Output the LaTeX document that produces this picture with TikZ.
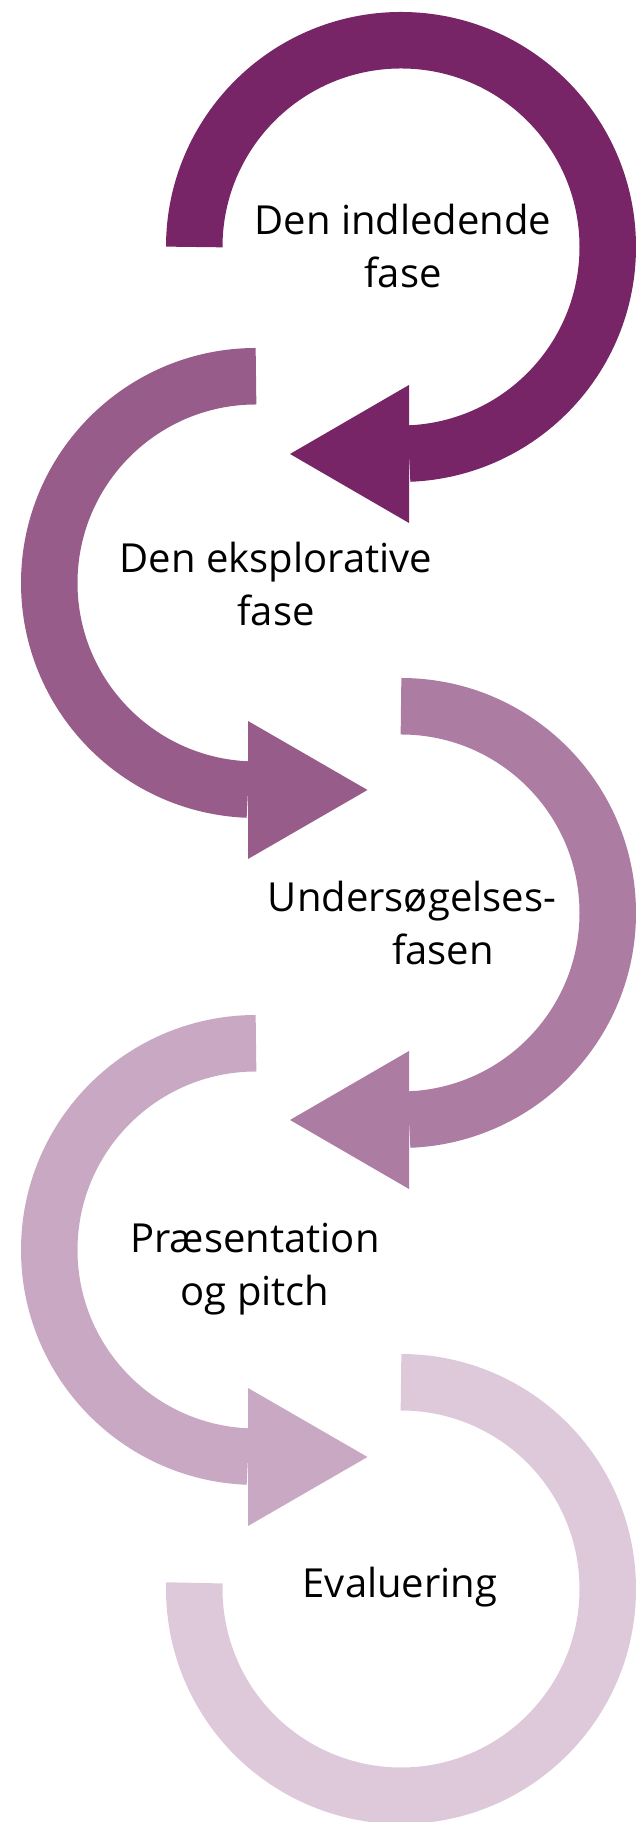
\documentclass[tikz,border=0pt]{standalone}
\usepackage{fontspec}
\setmainfont{Open Sans}
\definecolor{cA}{RGB}{119,37,102}
\definecolor{cB}{RGB}{152,92,138}
\definecolor{cC}{RGB}{173,124,163}
\definecolor{cD}{RGB}{201,168,196}
\definecolor{cE}{RGB}{222,201,219}
\begin{document}
\begin{tikzpicture}[x=1pt,y=1pt,
  band/.style={line width=56.5pt},
  lbl/.style={font=\fontsize{40}{53}\selectfont, align=center, inner sep=0pt, anchor=base}]
\useasboundingbox (0,0) rectangle (636,1822);
\coordinate (A) at (401,1575);
\coordinate (B) at (256,1239);
\coordinate (C) at (401,909);
\coordinate (D) at (256,572);
\coordinate (E) at (401,233);
% arc 1
\draw[band, cA] ([shift={(180:206.75)}]A) arc[start angle=180, end angle=-87.8, radius=206.75];
\fill[cA] ([shift={(8,-138)}]A) -- ([shift={(8,-276)}]A) -- ([shift={(-111,-207)}]A) -- cycle;
% arc 2
\draw[band, cB] ([shift={(90:206.75)}]B) arc[start angle=90, end angle=267.8, radius=206.75];
\fill[cB] ([shift={(-8,-138)}]B) -- ([shift={(-8,-276)}]B) -- ([shift={(111.5,-207)}]B) -- cycle;
% arc 3
\draw[band, cC] ([shift={(90:206.75)}]C) arc[start angle=90, end angle=-87.8, radius=206.75];
\fill[cC] ([shift={(8,-138)}]C) -- ([shift={(8,-276)}]C) -- ([shift={(-111,-207)}]C) -- cycle;
% arc 4
\draw[band, cD] ([shift={(90:206.75)}]D) arc[start angle=90, end angle=267.8, radius=206.75];
\fill[cD] ([shift={(-8,-138)}]D) -- ([shift={(-8,-276)}]D) -- ([shift={(111.5,-207)}]D) -- cycle;
% arc 5
\draw[band, cE] ([shift={(90:206.75)}]E) arc[start angle=90, end angle=-181.7, radius=206.75];
% labels (base anchor = baseline of the last line)
\node[lbl] (l1) at (403,1534) {Den indledende\\fase};
\node[lbl] (l2) at (276,1196) {Den eksplorative\\fase};
\node[lbl] (l3) at (412,857) {Unders\o gelses-\\\hspace*{62pt}fasen};
\node[lbl] (l4) at (255,516) {Pr\ae sentation\\og pitch};
\node[lbl] (l5) at (400,224) {Evaluering};
\end{tikzpicture}
\end{document}
